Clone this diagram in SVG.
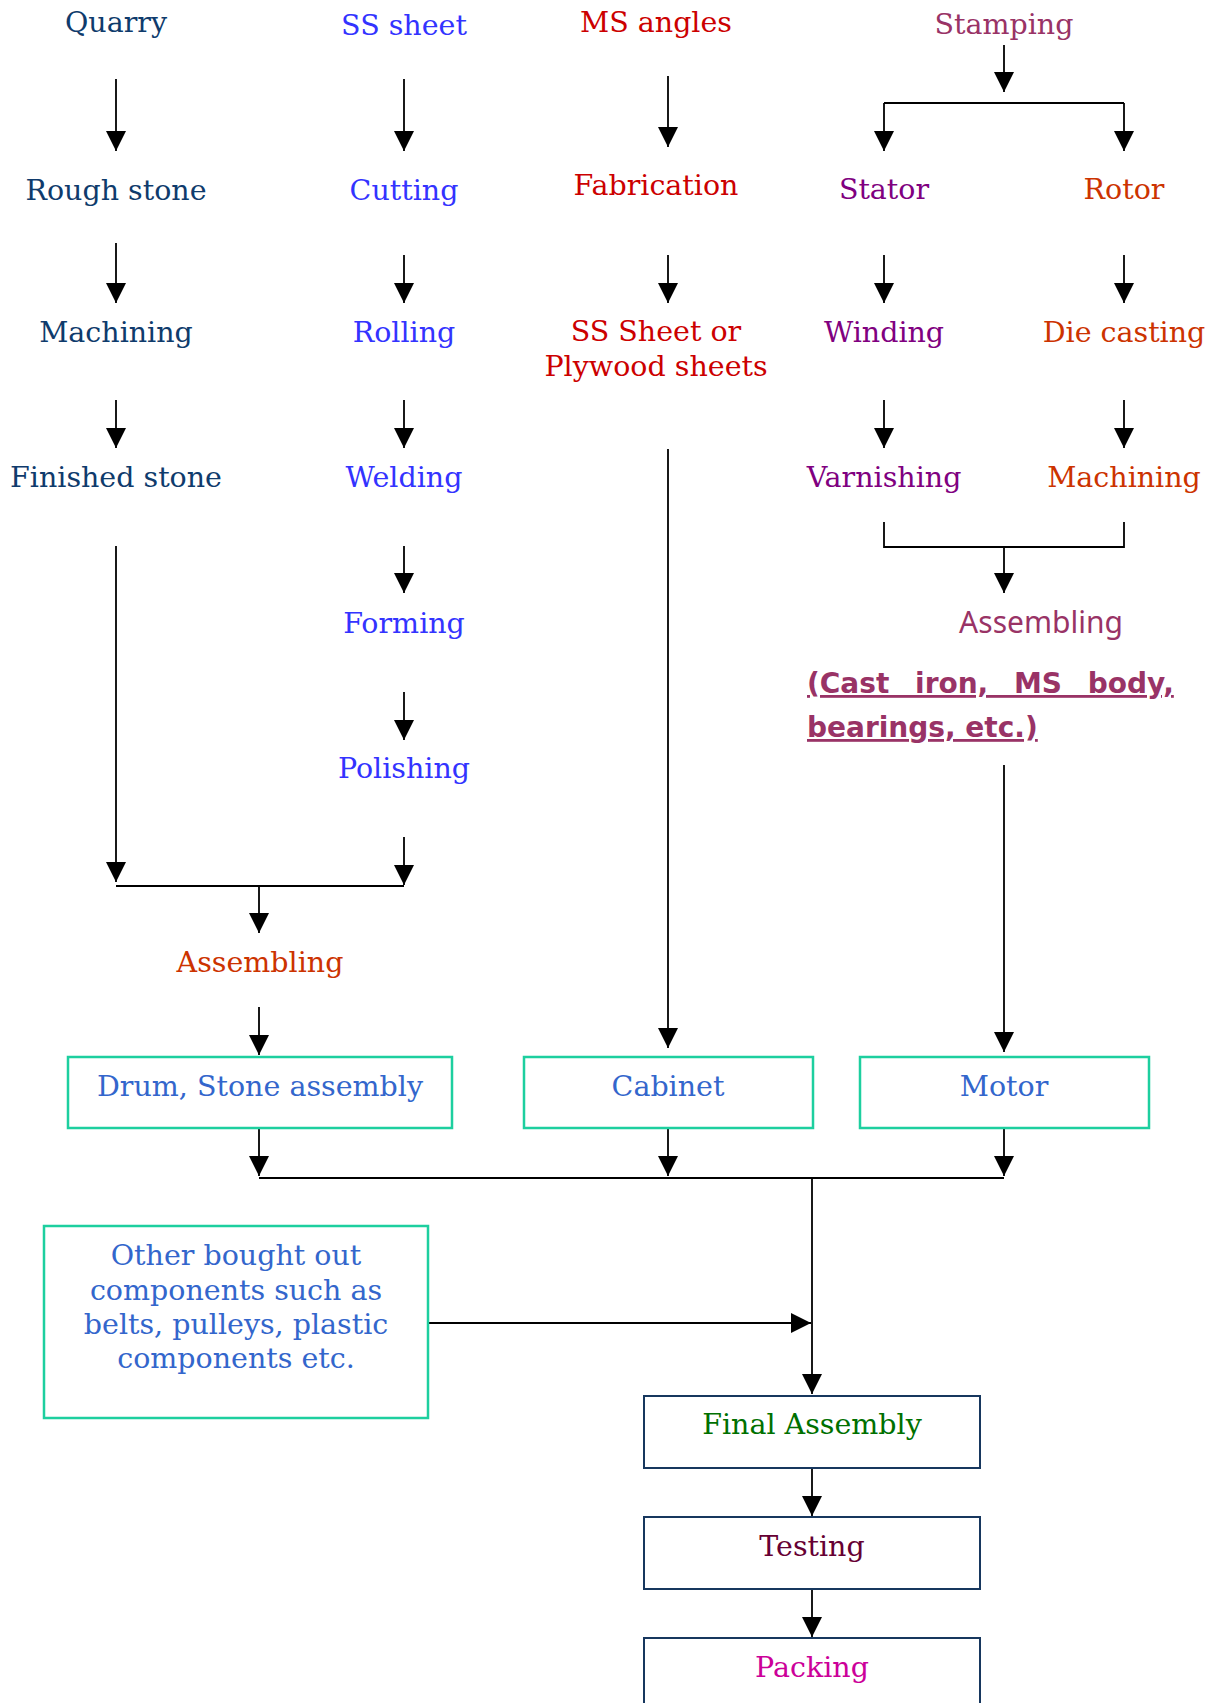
<svg xmlns="http://www.w3.org/2000/svg" width="1219" height="1703" viewBox="0 0 1219 1703">
<defs>
<marker id="ah" markerUnits="userSpaceOnUse" markerWidth="20" markerHeight="20" viewBox="0 0 20 20" refX="20" refY="10" orient="auto"><path d="M0,0 L20,10 L0,20 z" fill="#000"/></marker>
<style>
text{font-family:"DejaVu Serif","Liberation Serif",serif;font-size:28.5px;text-anchor:middle}
.c1{fill:#0f3b6c}.c2{fill:#3333ff}.c3{fill:#cc0000}.c4{fill:#993366}.c5{fill:#800080}.c6{fill:#cc3300}
.bt{fill:#3366cc}
.fa{fill:#007000}.te{fill:#660033}.pa{fill:#cc0099}
.sans{font-family:"Noto Sans","DejaVu Sans",sans-serif;font-size:30px}
.note{font-family:"DejaVu Sans","Liberation Sans",sans-serif;font-weight:bold;font-size:28px;text-anchor:start;fill:#993366;text-decoration:underline}
.gbox{fill:#fff;stroke:#1dcf9f;stroke-width:2.5}
.nbox{fill:#fff;stroke:#17375e;stroke-width:2}
.ln{fill:none;stroke:#000;stroke-width:1.8}
.ar{fill:none;stroke:#000;stroke-width:1.8;marker-end:url(#ah)}
</style>
</defs>
<rect width="1219" height="1703" fill="#fff"/>
<g id="connectors">
<path class="ar" d="M116,79 V151"/>
<path class="ar" d="M116,243 V303"/>
<path class="ar" d="M116,400 V448"/>
<path class="ar" d="M116,546 V882"/>
<path class="ar" d="M404,79 V151"/>
<path class="ar" d="M404,255 V303"/>
<path class="ar" d="M404,400 V448"/>
<path class="ar" d="M404,546 V593"/>
<path class="ar" d="M404,692 V740"/>
<path class="ar" d="M404,837 V885"/>
<path class="ln" d="M116,886 H404"/>
<path class="ar" d="M259,886 V933"/>
<path class="ar" d="M259,1007 V1055"/>
<path class="ar" d="M668,76 V147"/>
<path class="ar" d="M668,255 V303"/>
<path class="ar" d="M668,449 V1048"/>
<path class="ar" d="M1004,45 V92"/>
<path class="ln" d="M884,103 H1124"/>
<path class="ar" d="M884,103 V151"/>
<path class="ar" d="M1124,103 V151"/>
<path class="ar" d="M884,255 V303"/>
<path class="ar" d="M1124,255 V303"/>
<path class="ar" d="M884,400 V448"/>
<path class="ar" d="M1124,400 V448"/>
<path class="ln" d="M884,522 V547 H1124 V522"/>
<path class="ar" d="M1004,547 V593"/>
<path class="ar" d="M1004,765 V1052"/>
<path class="ar" d="M259,1128 V1176"/>
<path class="ar" d="M668,1128 V1176"/>
<path class="ar" d="M1004,1128 V1176"/>
<path class="ln" d="M259,1178 H1004"/>
<path class="ar" d="M812,1178 V1394"/>
<path class="ar" d="M428,1323 H811"/>
<path class="ar" d="M812,1468 V1516"/>
<path class="ar" d="M812,1589 V1637"/>
</g>
<g id="n-quarry"><text class="c1" x="116" y="32">Quarry</text></g>
<g id="n-rough"><text class="c1" x="116" y="200">Rough stone</text></g>
<g id="n-mach1"><text class="c1" x="116" y="342">Machining</text></g>
<g id="n-finished"><text class="c1" x="116" y="487">Finished stone</text></g>
<g id="n-sssheet"><text class="c2" x="404" y="35">SS sheet</text></g>
<g id="n-cutting"><text class="c2" x="404" y="200">Cutting</text></g>
<g id="n-rolling"><text class="c2" x="404" y="342">Rolling</text></g>
<g id="n-welding"><text class="c2" x="404" y="487">Welding</text></g>
<g id="n-forming"><text class="c2" x="404" y="633">Forming</text></g>
<g id="n-polishing"><text class="c2" x="404" y="778">Polishing</text></g>
<g id="n-assem1"><text class="c6" x="260" y="972">Assembling</text></g>
<g id="n-msangles"><text class="c3" x="656" y="32">MS angles</text></g>
<g id="n-fabrication"><text class="c3" x="656" y="195">Fabrication</text></g>
<g id="n-sheets"><text class="c3" x="656" y="341">SS Sheet or</text><text class="c3" x="656" y="376">Plywood sheets</text></g>
<g id="n-stamping"><text class="c4" x="1004" y="34">Stamping</text></g>
<g id="n-stator"><text class="c5" x="884" y="199">Stator</text></g>
<g id="n-winding"><text class="c5" x="884" y="342">Winding</text></g>
<g id="n-varnishing"><text class="c5" x="884" y="487">Varnishing</text></g>
<g id="n-rotor"><text class="c6" x="1124" y="199">Rotor</text></g>
<g id="n-diecasting"><text class="c6" x="1124" y="342">Die casting</text></g>
<g id="n-mach2"><text class="c6" x="1124" y="487">Machining</text></g>
<g id="n-assem2"><text class="c4 sans" x="1041" y="633">Assembling</text>
<text class="note" x="807" y="693" word-spacing="16">(Cast iron, MS body,</text>
<text class="note" x="807" y="737">bearings, etc.)</text></g>
<g id="n-drum"><rect class="gbox" x="68" y="1057" width="384" height="71"/><text class="bt" x="260" y="1096">Drum, Stone assembly</text></g>
<g id="n-cabinet"><rect class="gbox" x="524" y="1057" width="289" height="71"/><text class="bt" x="668" y="1096">Cabinet</text></g>
<g id="n-motor"><rect class="gbox" x="860" y="1057" width="289" height="71"/><text class="bt" x="1004" y="1096">Motor</text></g>
<g id="n-other"><rect class="gbox" x="44" y="1226" width="384" height="192"/>
<text class="bt" x="236" y="1265">Other bought out</text>
<text class="bt" x="236" y="1300">components such as</text>
<text class="bt" x="236" y="1334">belts, pulleys, plastic</text>
<text class="bt" x="236" y="1368">components etc.</text></g>
<g id="n-final"><rect class="nbox" x="644" y="1396" width="336" height="72"/><text class="fa" x="812" y="1434">Final Assembly</text></g>
<g id="n-testing"><rect class="nbox" x="644" y="1517" width="336" height="72"/><text class="te" x="812" y="1556">Testing</text></g>
<g id="n-packing"><rect class="nbox" x="644" y="1638" width="336" height="90"/><text class="pa" x="812" y="1677">Packing</text></g>
</svg>
